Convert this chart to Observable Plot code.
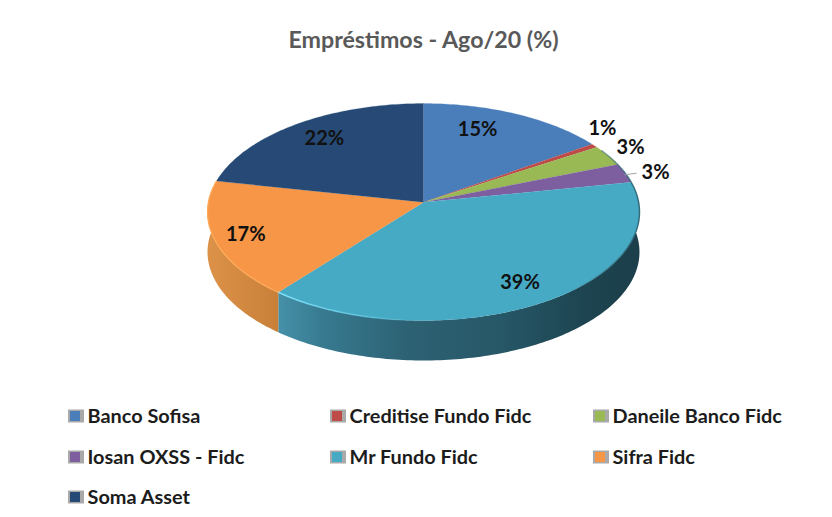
<!DOCTYPE html>
<html>
<head>
<meta charset="utf-8">
<script src="https://cdn.jsdelivr.net/npm/d3@7"></script>
<script src="https://cdn.jsdelivr.net/npm/@observablehq/plot@0.6"></script>
<style>html,body{margin:0;padding:0;background:#fff}svg{display:block}</style>
</head>
<body>
<div id="chart"></div>
<script>
const chartTitle = "Empréstimos - Ago/20 (%)";
const names = ["Banco Sofisa","Creditise Fundo Fidc","Daneile Banco Fidc","Iosan OXSS - Fidc","Mr Fundo Fidc","Sifra Fidc","Soma Asset"];
const shares = [15.4,0.6,3.1,2.9,38.8,17.4,21.8];
const colors = ["#4a7ebb","#be4b48","#98b954","#7d5fa0","#46aac5","#f79646","#264a75"];

// label placement (radius factor and turn in degrees from the slice's middle)
const labelRadius = [0.768,1.149,1.141,1.142,0.817,0.855,0.792];
const labelTurn = [-7.3,-6.0,-1.0,1.7,0.0,0.0,1.3];

// perspective pie geometry
const cx = 423, cy = 201.7, a = 215.1, b = 107.6, p = 0.0903, depth = 40;
const rad = d => d * Math.PI / 180;
const proj = (deg, r = 1, drop = 0) => {
  const X = r * Math.sin(rad(deg)), Y = r * Math.cos(rad(deg)), w = 1 + p * Y;
  return {x: cx + a * X / w, y: cy - b * Y / w + drop};
};
const total = d3.sum(shares);
const cum = d3.cumsum(shares);
const slices = names.map((name, i) => ({
  name, i,
  start: (cum[i] - shares[i]) / total * 360,
  end: cum[i] / total * 360
}));
const arc = (s, e, drop = 0) => {
  const n = Math.max(2, Math.ceil(Math.abs(e - s)));
  return d3.range(n + 1).map(k => proj(s + (e - s) * k / n, 1, drop));
};

const topFaces = slices.flatMap(s =>
  [{x: cx, y: cy}, ...arc(s.start, s.end)].map(pt => ({...pt, name: s.name})));

const wall = (s, e) => [...arc(s, e), ...arc(e, s, depth)];
const teal = slices[4], orange = slices[5];
const tealWall = wall(teal.start, teal.end);
const orangeWall = wall(orange.start, orange.end);

const labelRows = slices.map((s, i) => ({
  ...proj((s.start + s.end) / 2 + labelTurn[i], labelRadius[i]),
  text: Math.round(shares[i]) + "%"
}));
const leaderMid = (slices[3].start + slices[3].end) / 2;
const leader = [proj(leaderMid + 0.8, 0.995), proj(leaderMid + 0.8, 1.05)];

const legendCols = [68, 330, 593];
const legendRows = [416, 457, 497];
const legend = names.map((name, i) => {
  const x = legendCols[i % 3], y = legendRows[Math.floor(i / 3)];
  return {name, x, y};
});

const defsMark = () => {
  const g = d3.create("svg:defs");
  const grad = (id, x1, x2, stops) => {
    const lg = g.append("linearGradient").attr("id", id)
      .attr("gradientUnits", "userSpaceOnUse")
      .attr("x1", x1).attr("x2", x2).attr("y1", 0).attr("y2", 0);
    stops.forEach(([o, c, op]) => lg.append("stop").attr("offset", o).attr("stop-color", c).attr("stop-opacity", op ?? 1));
  };
  grad("tealSide", 279, 639, [[0,"#4590a8"],[0.12,"#377a90"],[0.35,"#2d6274"],[0.62,"#265767"],[0.85,"#1d4450"],[1,"#1b3f4b"]]);
  grad("orangeSide", 207, 279, [[0,"#dc9248"],[1,"#c87f38"]]);
  grad("tealRim", 279, 440, [[0,"#7fe0f5"],[0.5,"#66cde6",0.7],[1,"#46aac5",0]]);
  grad("darkRim", 560, 639, [[0,"#2c6474",0],[1,"#2c6474",0.9]]);
  return g.node();
};

const textFont = "Lato";
const chart = Plot.plot({
  width: 832, height: 517,
  margin: 0,
  x: {domain: [0, 832], range: [0, 832], axis: null},
  y: {domain: [0, 517], range: [0, 517], axis: null},
  color: {domain: names, range: colors},
  style: {background: "#fff"},
  marks: [
    defsMark,
    Plot.line(tealWall, {x: "x", y: "y", fill: "url(#tealSide)", stroke: "none"}),
    Plot.line(orangeWall, {x: "x", y: "y", fill: "url(#orangeSide)", stroke: "none"}),
    Plot.line(topFaces, {x: "x", y: "y", z: "name", fill: "name", stroke: "name", strokeWidth: 0.2}),
    Plot.line(arc(teal.end, 175), {x: "x", y: "y", stroke: "url(#tealRim)", strokeWidth: 1.6}),
    Plot.line(arc(orange.end, orange.start), {x: "x", y: "y", stroke: "#ffac5c", strokeWidth: 1.2}),
    Plot.line(arc(60, 140), {x: "x", y: "y", stroke: "url(#darkRim)", strokeWidth: 1.5}),
    Plot.line(leader, {x: "x", y: "y", stroke: "#a6a6a6", strokeWidth: 1.2}),
    Plot.text(labelRows, {x: "x", y: "y", text: "text", fontFamily: textFont, fontWeight: 700, fontSize: 20, fill: "#111"}),
    Plot.text([chartTitle], {x: () => 423, y: () => 40, fontFamily: textFont, fontWeight: 700, fontSize: 23.2, fill: "#595959"}),
    Plot.rect(legend, {x1: "x", x2: d => d.x + 16, y1: d => d.y - 6.5, y2: d => d.y + 6.5, fill: "#a9a9a9"}),
    Plot.rect(legend, {x1: d => d.x + 2, x2: d => d.x + 12, y1: d => d.y - 5, y2: d => d.y + 5, fill: "name"}),
    Plot.text(legend, {x: d => d.x + 19, y: "y", text: "name", textAnchor: "start", fontFamily: textFont, fontWeight: 700, fontSize: 19.9, fill: "#1c1c1c"})
  ]
});
document.getElementById("chart").appendChild(chart);
</script>
</body>
</html>
